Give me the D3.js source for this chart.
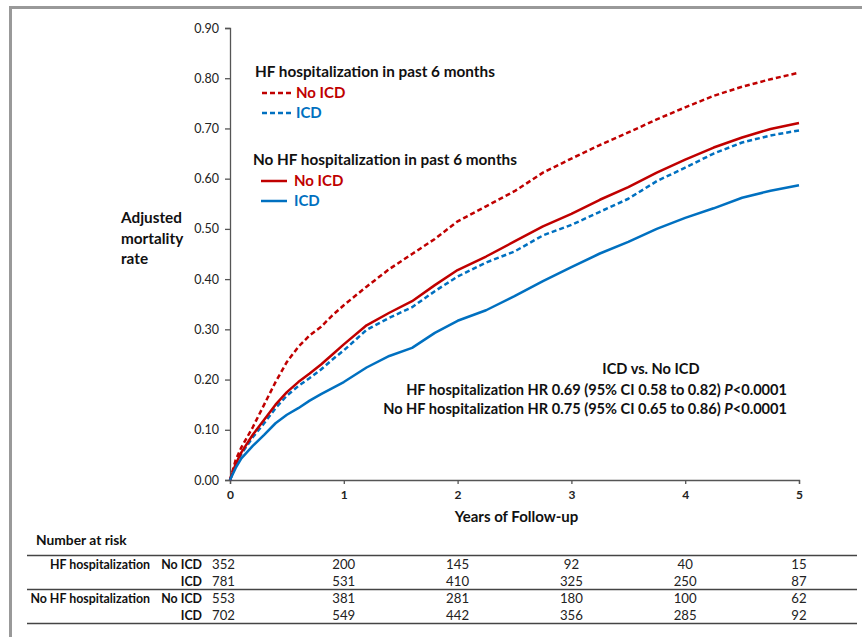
<!DOCTYPE html>
<html><head><meta charset="utf-8">
<script src="https://cdn.jsdelivr.net/npm/d3@7"></script>
<style>
html,body{margin:0;padding:0;background:#fff;}
svg{display:block;font-family:Lato, "Open Sans", sans-serif;}
</style></head>
<body><div id="chart"></div>
<script>
// ---- data ----
const years = [0, 0.05, 0.1, 0.2, 0.3, 0.4, 0.5, 0.6, 0.7, 0.8, 0.9, 1.0, 1.2, 1.4, 1.6, 1.8, 2.0, 2.25, 2.5, 2.75, 3.0, 3.25, 3.5, 3.75, 4.0, 4.25, 4.5, 4.75, 5.0];
const hfNoICD   = [0, 0.040, 0.065, 0.105, 0.150, 0.195, 0.235, 0.265, 0.288, 0.305, 0.328, 0.348, 0.385, 0.420, 0.450, 0.480, 0.515, 0.545, 0.575, 0.612, 0.640, 0.667, 0.692, 0.718, 0.742, 0.765, 0.783, 0.798, 0.811];
const hfICD     = [0, 0.030, 0.052, 0.085, 0.113, 0.143, 0.168, 0.187, 0.203, 0.220, 0.240, 0.258, 0.299, 0.323, 0.344, 0.376, 0.405, 0.433, 0.455, 0.487, 0.508, 0.534, 0.560, 0.595, 0.622, 0.650, 0.672, 0.686, 0.696];
const noHfNoICD = [0, 0.032, 0.055, 0.090, 0.120, 0.150, 0.175, 0.195, 0.212, 0.230, 0.250, 0.270, 0.308, 0.333, 0.356, 0.388, 0.418, 0.445, 0.475, 0.505, 0.530, 0.558, 0.583, 0.612, 0.638, 0.662, 0.682, 0.699, 0.711];
const noHfICD   = [0, 0.024, 0.043, 0.068, 0.090, 0.113, 0.130, 0.143, 0.158, 0.171, 0.183, 0.195, 0.224, 0.247, 0.263, 0.293, 0.317, 0.338, 0.366, 0.396, 0.424, 0.451, 0.474, 0.500, 0.522, 0.541, 0.562, 0.576, 0.587];

const yTicks = [0, 0.1, 0.2, 0.3, 0.4, 0.5, 0.6, 0.7, 0.8, 0.9];
const xTicks = [0, 1, 2, 3, 4, 5];

const riskYears = [0, 1, 2, 3, 4, 5];
const riskGroups = ["HF hospitalization", "", "No HF hospitalization", ""];
const riskArms = ["No ICD", "ICD", "No ICD", "ICD"];
const riskHFNoICD = [352, 200, 145, 92, 40, 15];
const riskHFICD = [781, 531, 410, 325, 250, 87];
const riskNoHFNoICD = [553, 381, 281, 180, 100, 62];
const riskNoHFICD = [702, 549, 442, 356, 285, 92];

const RED = "#c00000", BLUE = "#0070c0";
const series = [
  {name: "hfNoICD", values: hfNoICD, color: RED, dash: "5,3"},
  {name: "hfICD", values: hfICD, color: BLUE, dash: "5,3"},
  {name: "noHfNoICD", values: noHfNoICD, color: RED, dash: null},
  {name: "noHfICD", values: noHfICD, color: BLUE, dash: null}
];

// ---- layout ----
const W = 862, H = 637;
const FS = 15;      // large bold labels
const svg = d3.select("#chart").append("svg").attr("width", W).attr("height", H);
svg.append("rect").attr("width", W).attr("height", H).attr("fill", "#fff");

// frame
svg.append("line").attr("x1", 9).attr("x2", W).attr("y1", 7.5).attr("y2", 7.5).attr("stroke", "#999").attr("stroke-width", 3);
svg.append("line").attr("x1", 10.5).attr("x2", 10.5).attr("y1", 6).attr("y2", H).attr("stroke", "#999").attr("stroke-width", 3);

const x = d3.scaleLinear().domain([0, 5]).range([230, 799]);
const y = d3.scaleLinear().domain([0, 0.9]).range([480, 28]);

// axes
const yAxis = svg.append("g").attr("transform", `translate(${x(0)},0)`)
  .call(d3.axisLeft(y).tickValues(yTicks).tickFormat(d3.format(".2f")).tickSize(5).tickPadding(6));
yAxis.selectAll("text").attr("font-size", 12.5).attr("fill", "#222").attr("font-family", "Lato, sans-serif");
const xAxis = svg.append("g").attr("transform", `translate(0,${y(0)})`)
  .call(d3.axisBottom(x).tickValues(xTicks).tickFormat(d3.format("d")).tickSize(4).tickPadding(6));
xAxis.selectAll("text").attr("font-size", 12).attr("font-weight", "bold").attr("fill", "#222").attr("font-family", "Lato, sans-serif");
svg.selectAll(".domain, .tick line").attr("stroke", "#555").attr("stroke-width", 1.3);

// lines
const line = d3.line().x((d, i) => x(years[i])).y(d => y(d));
series.forEach(s => {
  svg.append("path").datum(s.values).attr("d", line)
    .attr("fill", "none").attr("stroke", s.color).attr("stroke-width", 2.5)
    .attr("stroke-dasharray", s.dash).attr("stroke-linejoin", "round");
});

// axis titles
svg.append("text").attr("x", x(2.5) + 2).attr("y", 522).attr("text-anchor", "middle")
  .attr("font-size", FS).attr("font-weight", "bold").attr("fill", "#111").text("Years of Follow-up");
const yl = svg.append("text").attr("x", 121).attr("font-size", FS + 0.3).attr("font-weight", "bold").attr("fill", "#111");
["Adjusted", "mortality", "rate"].forEach((t, i) => yl.append("tspan").attr("x", 121).attr("y", 223 + i * 20.5).text(t));

// legend
const legend = [
  {title: "HF hospitalization in past 6 months", tx: 255, ty: 77, items: [
    {label: "No ICD", color: RED, dash: "5,3", y: 93, x1: 262, x2: 291, lx: 296},
    {label: "ICD", color: BLUE, dash: "5,3", y: 113, x1: 262, x2: 291, lx: 296}]},
  {title: "No HF hospitalization in past 6 months", tx: 253, ty: 165, items: [
    {label: "No ICD", color: RED, dash: null, y: 181, x1: 261, x2: 287, lx: 294},
    {label: "ICD", color: BLUE, dash: null, y: 201, x1: 261, x2: 287, lx: 294}]}
];
legend.forEach(g => {
  svg.append("text").attr("x", g.tx).attr("y", g.ty).attr("font-size", FS + 0.3).attr("font-weight", "bold").attr("fill", "#111").text(g.title);
  g.items.forEach(it => {
    svg.append("line").attr("x1", it.x1).attr("x2", it.x2).attr("y1", it.y).attr("y2", it.y)
      .attr("stroke", it.color).attr("stroke-width", 2.5).attr("stroke-dasharray", it.dash);
    svg.append("text").attr("x", it.lx).attr("y", it.y + 5).attr("font-size", FS).attr("font-weight", "bold")
      .attr("fill", it.color).text(it.label);
  });
});

// annotation
svg.append("text").attr("x", 651).attr("y", 374).attr("text-anchor", "middle").attr("font-size", 14.6)
  .attr("font-weight", "bold").attr("fill", "#111").text("ICD vs. No ICD");
const ann = [
  ["HF hospitalization HR 0.69 (95% CI 0.58 to 0.82) ", 395],
  ["No HF hospitalization HR 0.75 (95% CI 0.65 to 0.86) ", 414]
];
ann.forEach(([t, yy]) => {
  const tx = svg.append("text").attr("x", 787).attr("y", yy).attr("text-anchor", "end").attr("font-size", 14.6)
    .attr("font-weight", "bold").attr("fill", "#111");
  tx.append("tspan").text(t);
  tx.append("tspan").attr("font-style", "italic").text("P");
  tx.append("tspan").text("<0.0001");
});

// number at risk table
svg.append("text").attr("x", 36).attr("y", 545).attr("font-size", 13.8).attr("font-weight", "bold").attr("fill", "#111").text("Number at risk");
const tl = [555.5, 589.5, 623.5];
tl.forEach(v => svg.append("line").attr("x1", 27).attr("x2", 857).attr("y1", v).attr("y2", v).attr("stroke", "#444").attr("stroke-width", 1.4));
const riskRows = [riskHFNoICD, riskHFICD, riskNoHFNoICD, riskNoHFICD];
const rowY = [569, 586, 603, 620];
riskRows.forEach((row, r) => {
  if (riskGroups[r]) svg.append("text").attr("x", 150).attr("y", rowY[r]).attr("text-anchor", "end")
    .attr("font-size", 12.4).attr("font-weight", "bold").attr("fill", "#111").text(riskGroups[r]);
  svg.append("text").attr("x", 202).attr("y", rowY[r]).attr("text-anchor", "end")
    .attr("font-size", 12.4).attr("font-weight", "bold").attr("fill", "#111").text(riskArms[r]);
  row.forEach((v, i) => {
    const first = i === 0;
    svg.append("text").attr("x", first ? x(riskYears[i]) - 18 : x(riskYears[i]))
      .attr("y", rowY[r]).attr("text-anchor", first ? "start" : "middle")
      .attr("font-size", 13.2).attr("fill", "#222").text(v);
  });
});
</script></body></html>
